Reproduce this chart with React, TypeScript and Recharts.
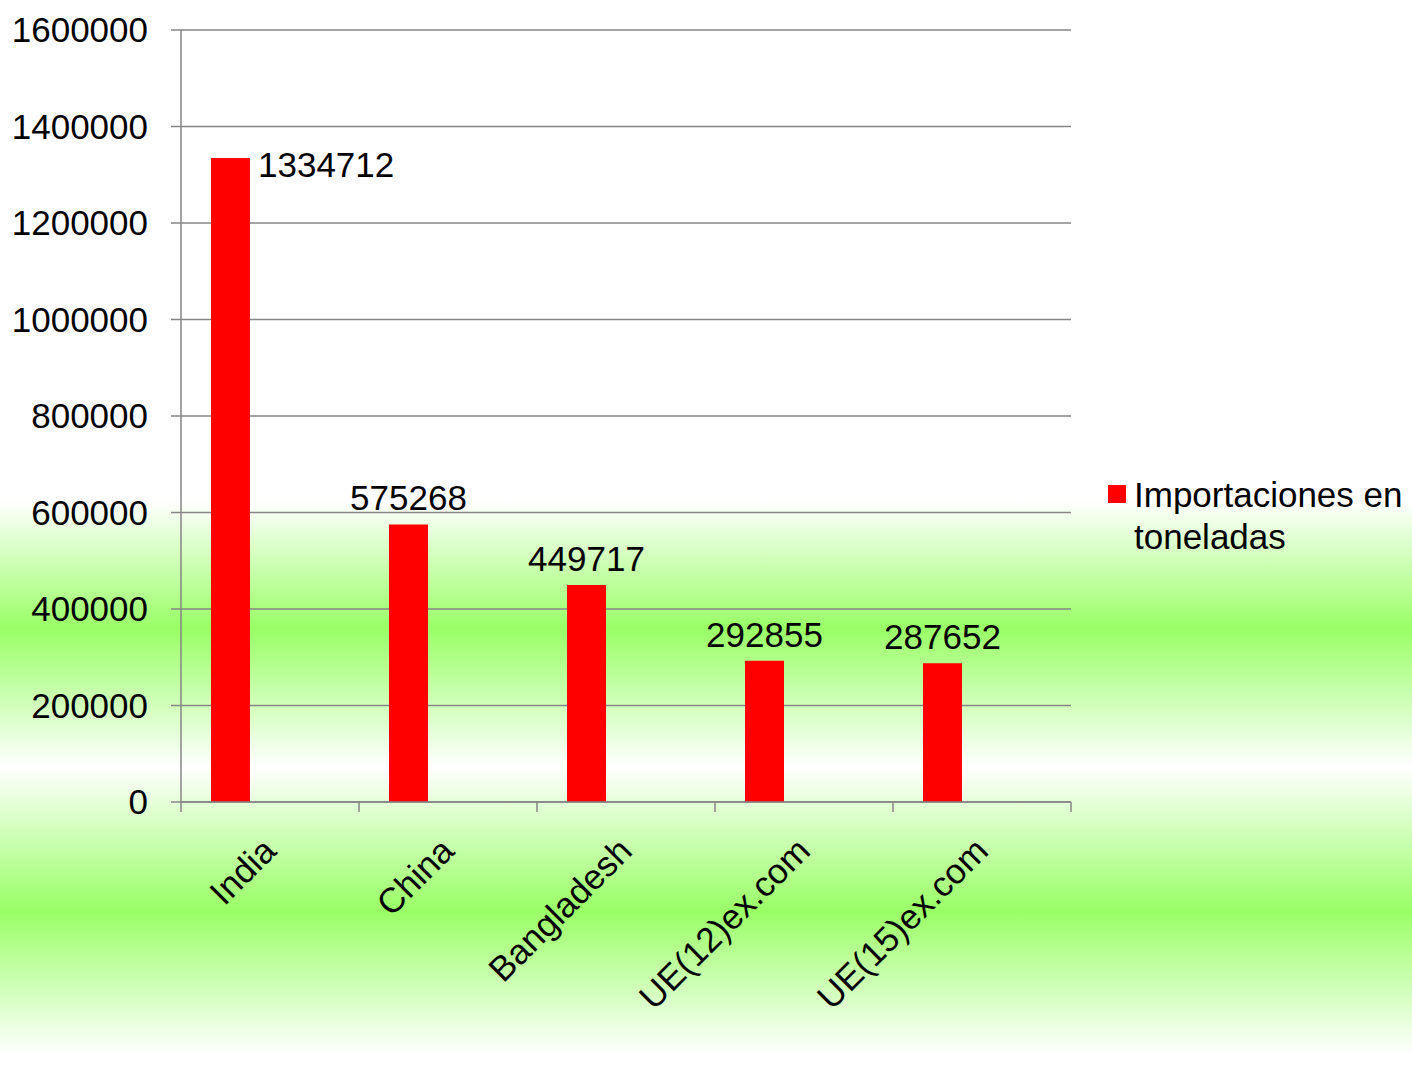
import React from 'react';
import { BarChart, Bar, XAxis, YAxis, CartesianGrid, LabelList, Legend } from 'recharts';

const categories = ['India', 'China', 'Bangladesh', 'UE(12)ex.com', 'UE(15)ex.com'];
const importaciones = [1334712, 575268, 449717, 292855, 287652];
const yTicks = [0, 200000, 400000, 600000, 800000, 1000000, 1200000, 1400000, 1600000];
const seriesName = 'Importaciones en toneladas';

const data = categories.map((c, i) => ({ name: c, v: importaciones[i] }));

const FONT = '"Liberation Sans", Arial, sans-serif';
const GRAY = '#868686';
const FS = 35;

const XTick = (props: any) => {
  const { x, y, payload, index, visibleTicksCount, width } = props;
  const n = visibleTicksCount || categories.length;
  const half = payload && typeof payload.offset === 'number' && payload.offset > 0 ? payload.offset : width / n / 2;
  const left = x - half;
  const right = x + half;
  const tx = x + 8;
  const ty = y + 51;
  return (
    <g>
      <line x1={left} y1={y} x2={left} y2={y + 10} stroke={GRAY} strokeWidth={1.5} />
      {index === n - 1 && <line x1={right} y1={y} x2={right} y2={y + 10} stroke={GRAY} strokeWidth={1.5} />}
      <text x={tx} y={ty} transform={`rotate(-45, ${tx}, ${ty})`} textAnchor="end" fill="#000" fontSize={FS} fontFamily={FONT}>
        {payload.value}
      </text>
    </g>
  );
};

const BarLabel = (props: any) => {
  const { x, y, width, value, index } = props;
  if (index === 0) {
    return (
      <text x={x + width + 8} y={y + 19} textAnchor="start" fill="#000" fontSize={FS} fontFamily={FONT}>
        {value}
      </text>
    );
  }
  return (
    <text x={x + width / 2} y={y - 14} textAnchor="middle" fill="#000" fontSize={FS} fontFamily={FONT}>
      {value}
    </text>
  );
};

const LegendContent = () => (
  <div style={{ display: 'flex', alignItems: 'flex-start', width: 308, fontFamily: FONT, fontSize: FS, lineHeight: '42px', color: '#000' }}>
    <div style={{ width: 18, height: 18, background: '#FF0000', marginLeft: 4, marginTop: 11, flexShrink: 0 }} />
    <div style={{ marginLeft: 8, width: 280 }}>{seriesName}</div>
  </div>
);

export default function App() {
  return (
    <div
      style={{
        position: 'absolute',
        left: 0,
        top: 0,
        width: 1412,
        height: 1065,
        background:
          'linear-gradient(to bottom, #ffffff 0%, #ffffff 47%, #99ff66 59%, #ffffff 72%, #99ff66 85.5%, #ffffff 99%, #ffffff 100%)',
      }}
    >
      <BarChart
        width={1412}
        height={1065}
        data={data}
        margin={{ top: 30, right: 33, bottom: 0, left: 0 }}
        barCategoryGap={30}
        barGap={0}
      >
        <CartesianGrid vertical={false} stroke={GRAY} strokeWidth={1.5} />
        <XAxis
          dataKey="name"
          height={263}
          interval={0}
          axisLine={{ stroke: GRAY, strokeWidth: 1.5 }}
          tickLine={false}
          tickSize={0}
          tickMargin={0}
          tick={<XTick />}
        />
        <YAxis
          width={181}
          domain={[0, 1600000]}
          ticks={yTicks}
          interval={0}
          axisLine={{ stroke: GRAY, strokeWidth: 1.5 }}
          tickLine={{ stroke: GRAY, strokeWidth: 1.5 }}
          tickSize={10}
          tickMargin={23}
          tick={{ fill: '#000', fontSize: FS, fontFamily: FONT }}
        />
        <Legend
          layout="vertical"
          align="right"
          verticalAlign="middle"
          content={<LegendContent />}
          wrapperStyle={{ left: 1104, right: 'auto', top: 474, width: 308 }}
        />
        <Bar dataKey="v" name={seriesName} fill="#FF0000" isAnimationActive={false}>
          <LabelList dataKey="v" content={<BarLabel />} />
        </Bar>
        <Bar dataKey="s2" fill="#FF0000" legendType="none" isAnimationActive={false} />
        <Bar dataKey="s3" fill="#FF0000" legendType="none" isAnimationActive={false} />
      </BarChart>
    </div>
  );
}
